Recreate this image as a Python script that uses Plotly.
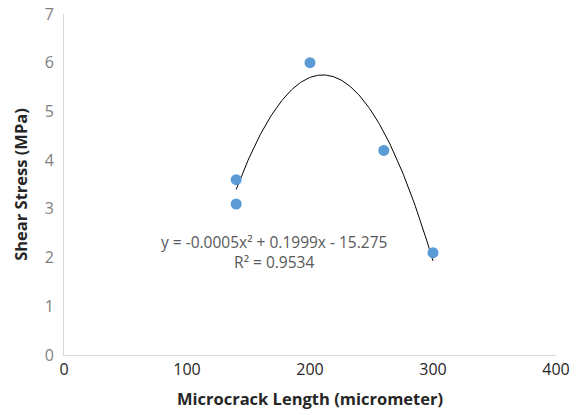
import numpy as np
import plotly.graph_objects as go

# Data
crack_length = [140, 140, 200, 260, 300]
shear_stress = [3.6, 3.1, 6.0, 4.2, 2.1]
x_ticks = [0, 100, 200, 300, 400]
y_ticks = [0, 1, 2, 3, 4, 5, 6, 7]
equation_text = "y = -0.0005x² + 0.1999x - 15.275<br>R² = 0.9534"

# Polynomial (order 2) trendline fitted to the data, as in the spreadsheet
coef = np.polyfit(crack_length, shear_stress, 2)
xs = np.linspace(min(crack_length), max(crack_length), 200)
ys = np.polyval(coef, xs)

font_family = "Open Sans, Liberation Sans, sans-serif"

fig = go.Figure()
fig.add_trace(go.Scatter(
    x=xs, y=ys, mode="lines",
    line=dict(color="black", width=1),
    hoverinfo="skip", showlegend=False,
))
fig.add_trace(go.Scatter(
    x=crack_length, y=shear_stress, mode="markers",
    marker=dict(color="#5B9BD5", size=11),
    showlegend=False,
))

fig.add_annotation(
    x=171, y=2.11, xref="x", yref="y",
    text=equation_text, showarrow=False, align="center",
    font=dict(family=font_family, size=15.5, color="#595959"),
)

fig.update_layout(
    width=580, height=415,
    margin=dict(l=64, r=24, t=14, b=60, autoexpand=False),
    paper_bgcolor="white", plot_bgcolor="white",
    font=dict(family=font_family),
    xaxis=dict(
        range=[0, 400], tickvals=x_ticks, showgrid=False, zeroline=False,
        showline=True, linecolor="#D9D9D9", linewidth=1, ticks="",
        tickfont=dict(size=16, color="#262626"), automargin=False,
        title=dict(text="<b>Microcrack Length (micrometer)</b>",
                   font=dict(size=16.5, color="#262626"), standoff=14),
    ),
    yaxis=dict(
        range=[0, 7], tickvals=y_ticks, showgrid=False, zeroline=False,
        showline=True, linecolor="#D9D9D9", linewidth=1, ticks="",
        tickfont=dict(size=16, color="#7F7F7F"), automargin=False,
        ticklabelstandoff=6,
        title=dict(text="<b>Shear Stress (MPa)</b>",
                   font=dict(size=16.5, color="#262626"), standoff=12),
    ),
)

fig.write_html("out.html", config={"displayModeBar": False},
               post_script="document.body.style.margin='0';")
